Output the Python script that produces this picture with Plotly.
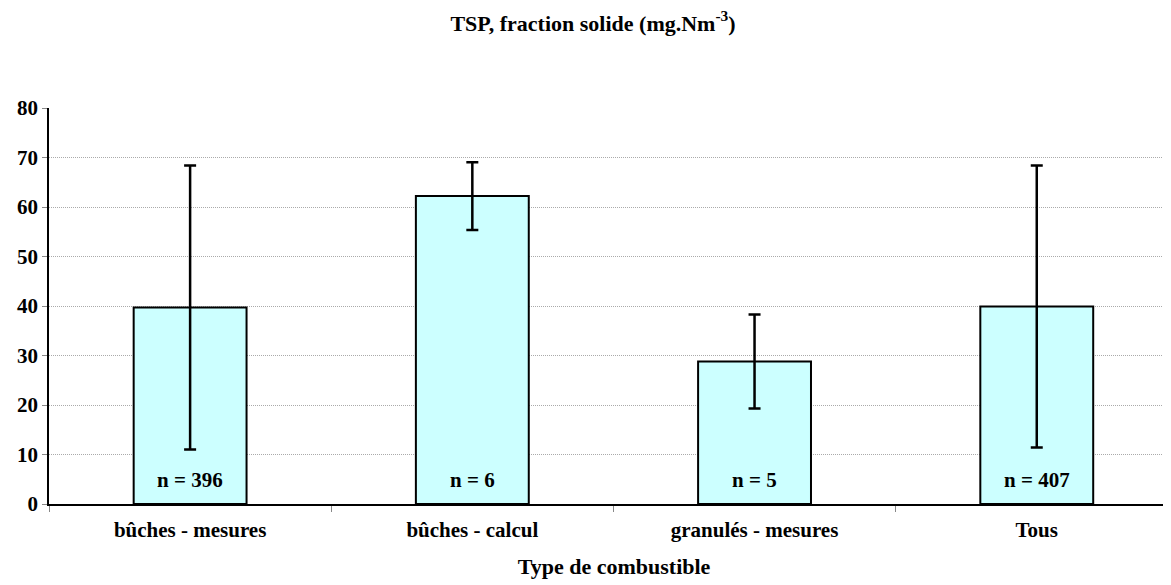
import plotly.graph_objects as go

categories = ["bûches - mesures", "bûches - calcul", "granulés - mesures", "Tous"]
means = [39.7, 62.2, 28.8, 39.9]
errors = [28.7, 6.85, 9.5, 28.5]
counts = ["n = 396", "n = 6", "n = 5", "n = 407"]

FONT = "Liberation Serif"

fig = go.Figure()
fig.add_trace(go.Bar(
    x=categories, y=means, width=0.4,
    marker=dict(color="#CCFFFF", line=dict(color="black", width=2)),
    error_y=dict(type="data", array=errors, visible=True, color="black", thickness=2.5, width=6),
    showlegend=False, hoverinfo="skip",
))

for c, n in zip(categories, counts):
    fig.add_annotation(x=c, y=4.9, text="<b>%s</b>" % n, showarrow=False,
                       font=dict(family=FONT, size=21, color="black"), yanchor="middle")

# the page body adds an 8px offset; margins compensate for it
fig.update_layout(
    width=1171, height=585,
    margin=dict(l=41, r=0, t=100, b=89),
    plot_bgcolor="white", paper_bgcolor="white",
    title=dict(text="<b>TSP, fraction solide (mg.Nm<sup>-3</sup>)</b>", x=(593 - 8) / 1171, xanchor="center",
               y=1 - 15 / 585, yanchor="middle", font=dict(family=FONT, size=22, color="black")),
    font=dict(family=FONT, size=20, color="black"),
)
fig.update_xaxes(
    range=[-0.5, 3.504], showline=True, linecolor="black", linewidth=1.5,
    ticks="outside", tickson="boundaries", ticklen=6, tickcolor="#888888",
    tickfont=dict(family=FONT, size=21, color="black"),
    tickprefix="<b>", ticksuffix="</b>", ticklabelstandoff=6,
    title=dict(text="<b>Type de combustible</b>", font=dict(family=FONT, size=22, color="black"), standoff=18),
    showgrid=False, automargin=False,
)
fig.update_yaxes(
    range=[0, 80], dtick=10, showline=True, linecolor="black", linewidth=1.5,
    ticks="outside", ticklen=5, tickcolor="#888888",
    tickfont=dict(family=FONT, size=21, color="black"),
    tickprefix="<b>", ticksuffix="</b>",
    showgrid=True, gridcolor="#aaaaaa", griddash="1px,1px", gridwidth=1,
    zeroline=False, automargin=False,
)

fig.write_html("out.html")
